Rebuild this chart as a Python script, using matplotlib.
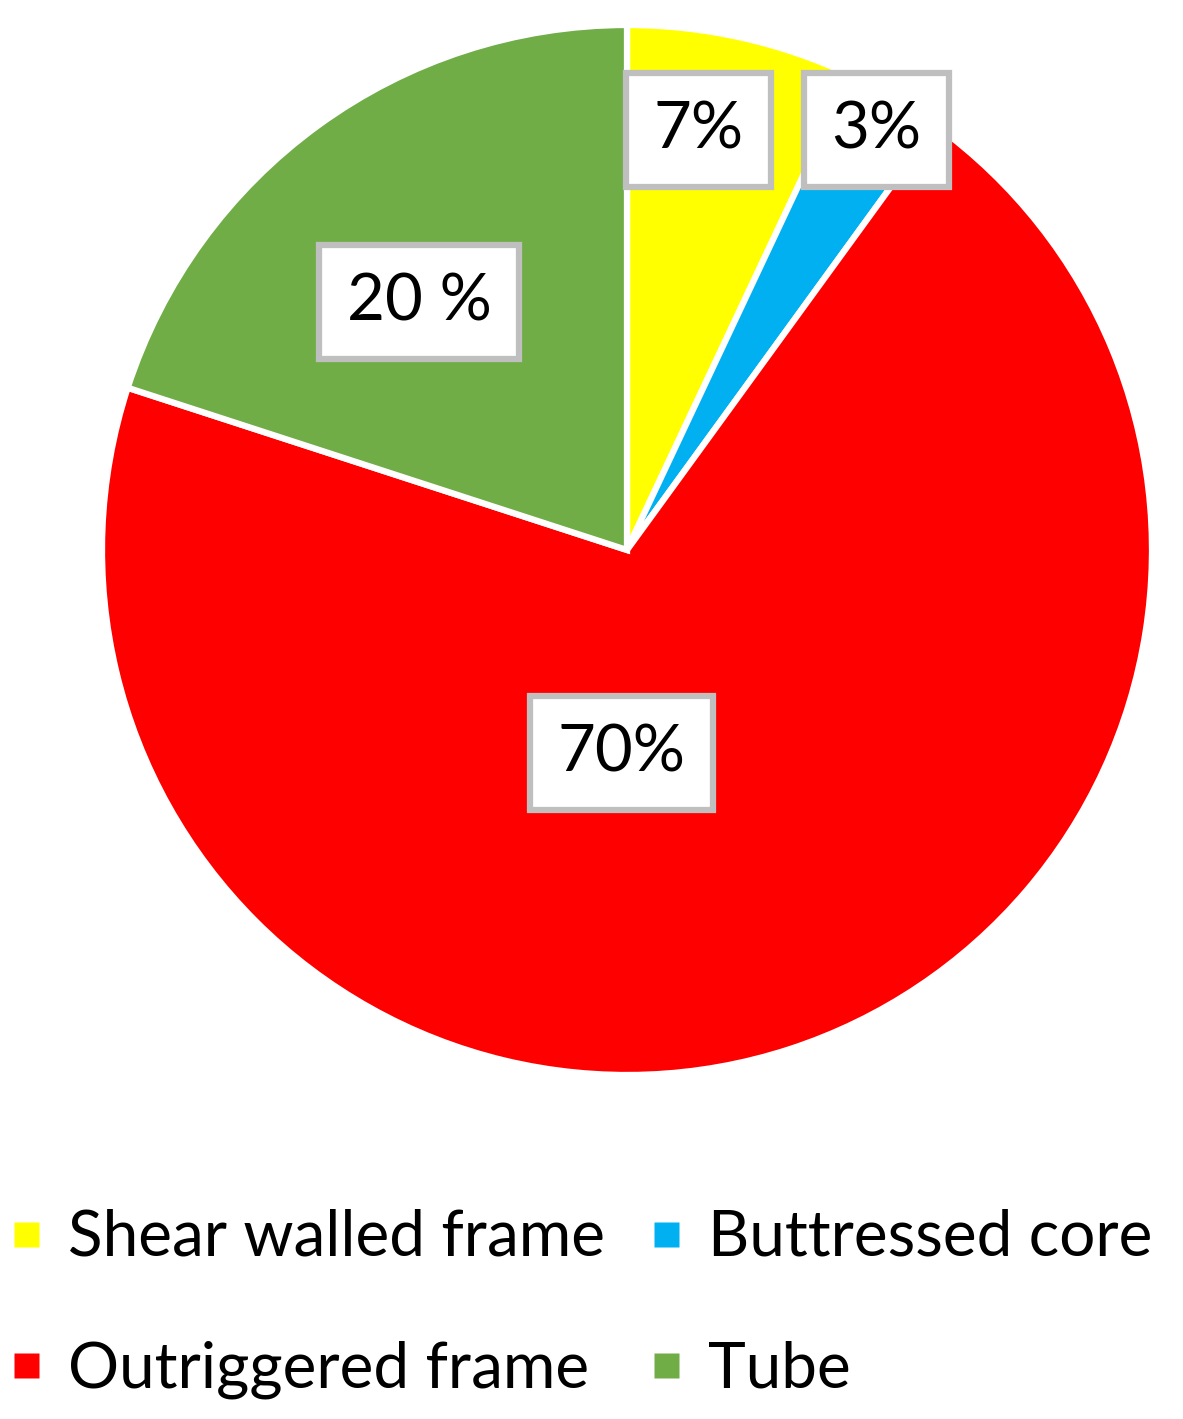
import matplotlib
matplotlib.use("Agg")
import matplotlib.pyplot as plt
from matplotlib.lines import Line2D

categories = ["Shear walled frame", "Buttressed core", "Outriggered frame", "Tube"]
values = [7, 3, 70, 20]
labels = ["7%", "3%", "70%", "20 %"]
colors = ["#FFFF00", "#00B0F0", "#FF0000", "#70AD47"]
# label box centres in data units (pie radius = 1)
label_pos = [(0.137, 0.800), (0.475, 0.800), (-0.011, -0.386), (-0.396, 0.472)]

plt.rcParams['font.family'] = ['Lato', 'DejaVu Sans']

W, H = 1183, 1419
fig = plt.figure(figsize=(W / 100, H / 100), dpi=100)
cx, cy, r = 627, 550, 525
ax = fig.add_axes([(cx - r) / W, 1 - (cy + r) / H, 2 * r / W, 2 * r / H])
ax.axis('off')

wedges, _ = ax.pie(values, colors=colors, startangle=90, counterclock=False,
                   radius=1, wedgeprops=dict(edgecolor='white', linewidth=4.5))
ax.set_xlim(-1, 1)
ax.set_ylim(-1, 1)
ax.set_aspect('equal')

for lab, (x, y) in zip(labels, label_pos):
    ax.text(x, y, lab, ha='center', va='center', fontsize=47, color='black',
            bbox=dict(boxstyle='square,pad=0.42', facecolor='white',
                      edgecolor='#BFBFBF', linewidth=4.5))

# legend: row-wise order (matplotlib fills columns first)
order = [0, 2, 1, 3]
handles = [Line2D([], [], marker='s', linestyle='none', markersize=18,
                  markerfacecolor=colors[i], markeredgecolor='none') for i in order]
fig.legend(handles, [categories[i] for i in order], loc='upper left',
           bbox_to_anchor=(10 / W, 1 - 1209 / H), borderpad=0, borderaxespad=0,
           ncol=2, frameon=False, fontsize=46, handlelength=0.5, handletextpad=0.4,
           columnspacing=0.72, labelspacing=1.15)

fig.savefig("out.png", dpi=100, facecolor='white')
